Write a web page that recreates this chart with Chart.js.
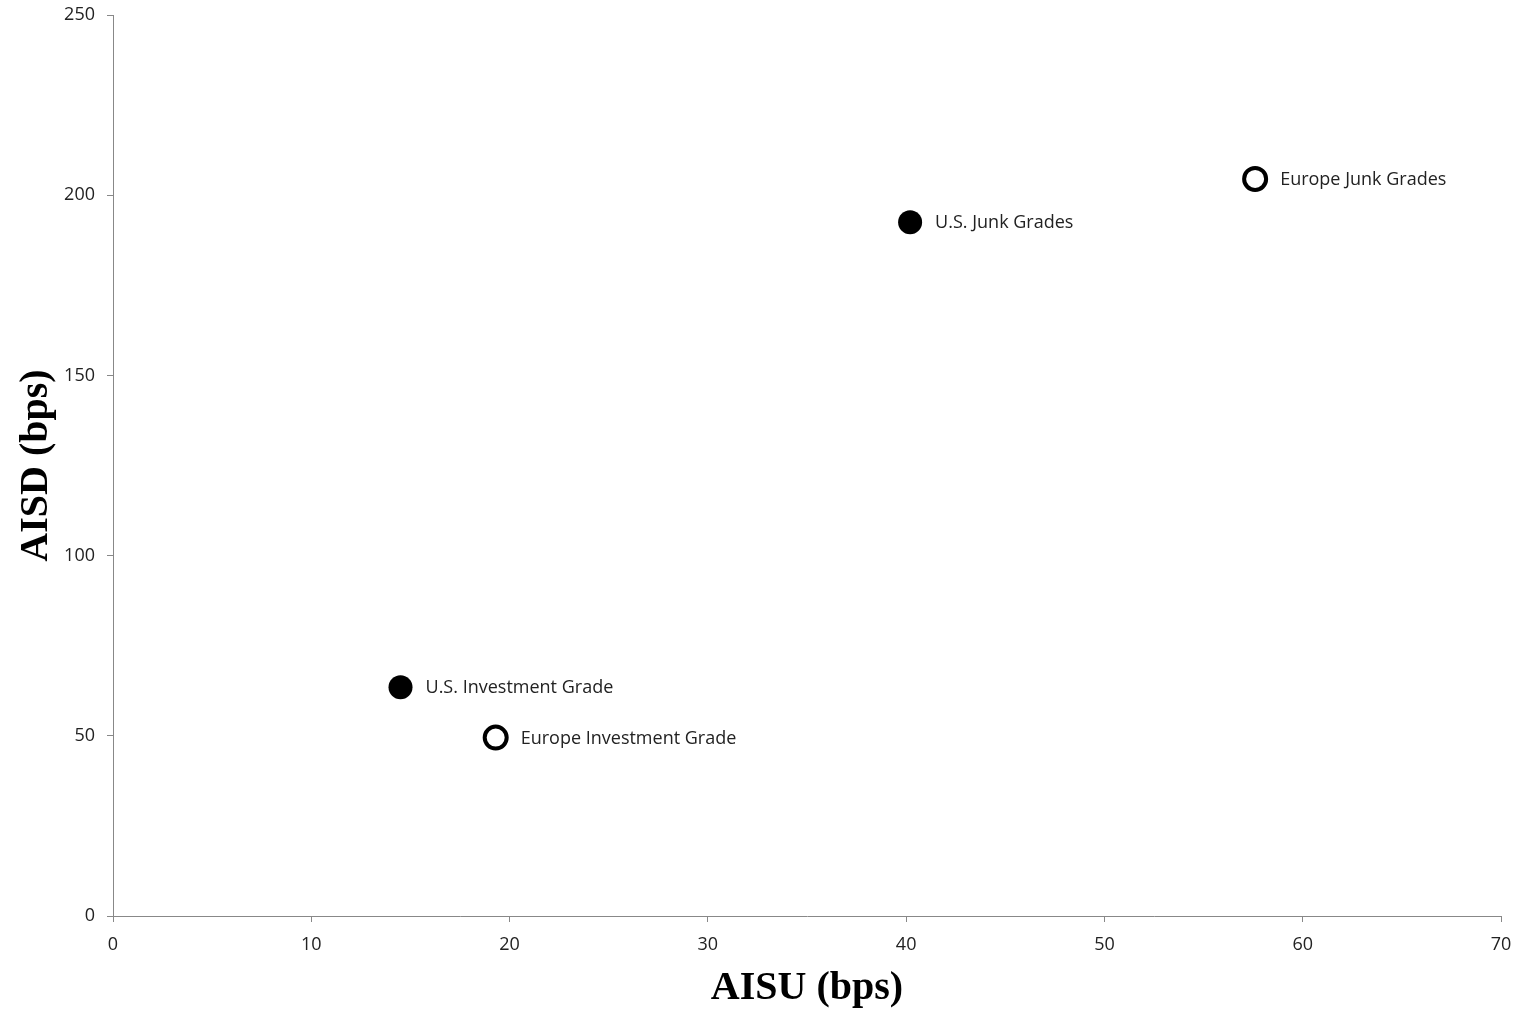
<!DOCTYPE html>
<html>
<head>
<meta charset="utf-8">
<script src="https://cdn.jsdelivr.net/npm/chart.js@4"></script>
<style>
  html, body { margin: 0; padding: 0; background: #fff; }
  #wrap { width: 1521px; height: 1013px; }
</style>
</head>
<body>
<div id="wrap"><canvas id="scatter"></canvas></div>
<script>
// Dados
const pointNames = ['U.S. Investment Grade', 'U.S. Junk Grades', 'Europe Investment Grade', 'Europe Junk Grades'];
const aisuUS = [14.5, 40.2];
const aisdUS = [63.5, 192.5];
const aisuEurope = [19.3, 57.6];
const aisdEurope = [49.5, 204.5];
const xTicks = [0, 10, 20, 30, 40, 50, 60, 70];
const yTicks = [0, 50, 100, 150, 200, 250];

const usLabels = pointNames.slice(0, 2);
const europeLabels = pointNames.slice(2);

const toPoints = (xs, ys) => xs.map((x, i) => ({ x: x, y: ys[i] }));

// Plugin simples para escrever o nome ao lado de cada ponto
const pointLabels = {
  id: 'pointLabels',
  afterDatasetsDraw(chart) {
    const ctx = chart.ctx;
    ctx.save();
    ctx.font = '18px "Open Sans"';
    ctx.fillStyle = '#222';
    ctx.textBaseline = 'middle';
    ctx.textAlign = 'left';
    chart.data.datasets.forEach((ds, di) => {
      const meta = chart.getDatasetMeta(di);
      meta.data.forEach((el, i) => {
        ctx.fillText(ds.names[i], el.x + 25, el.y + 1);
      });
    });
    ctx.restore();
  }
};

const tickFont = { family: 'Open Sans', size: 18 };
const titleFont = { family: 'Liberation Serif', size: 40, weight: 'bold' };

new Chart(document.getElementById('scatter'), {
  type: 'scatter',
  data: {
    datasets: [{
      label: 'U.S.',
      names: usLabels,
      data: toPoints(aisuUS, aisdUS),
      pointRadius: 12,
      pointHoverRadius: 12,
      backgroundColor: '#000',
      borderColor: '#000',
      borderWidth: 0
    }, {
      label: 'Europe',
      names: europeLabels,
      data: toPoints(aisuEurope, aisdEurope),
      pointRadius: 11,
      pointHoverRadius: 11,
      backgroundColor: '#fff',
      borderColor: '#000',
      borderWidth: 4
    }]
  },
  options: {
    responsive: true,
    maintainAspectRatio: false,
    animation: false,
    layout: { padding: { top: 15, right: 20, bottom: 0, left: 13 } },
    plugins: {
      legend: { display: false },
      tooltip: { enabled: false }
    },
    scales: {
      x: {
        type: 'linear',
        min: 0,
        max: 70,
        afterBuildTicks: (s) => { s.ticks = xTicks.map(v => ({ value: v })); },
        afterFit: (s) => { s.height = 97; s.paddingLeft = 0; s.paddingRight = 0; },
        grid: { display: true, drawOnChartArea: false, drawTicks: true, tickLength: 6, color: '#888' },
        border: { color: '#888', width: 1 },
        ticks: { color: '#222', font: tickFont, padding: 12, maxRotation: 0 },
        title: { display: true, text: 'AISU (bps)', color: '#000', font: titleFont, padding: { top: 0, bottom: 0 } }
      },
      y: {
        type: 'linear',
        min: 0,
        max: 250,
        afterBuildTicks: (s) => { s.ticks = yTicks.map(v => ({ value: v })); },
        afterFit: (s) => { s.width = 100; s.paddingTop = 0; s.paddingBottom = 0; },
        grid: { display: true, drawOnChartArea: false, drawTicks: true, tickLength: 6, color: '#888' },
        border: { color: '#888', width: 1 },
        ticks: { color: '#222', font: tickFont, padding: 12 },
        title: { display: true, text: 'AISD (bps)', color: '#000', font: titleFont, padding: { top: 0, bottom: 0 } }
      }
    }
  },
  plugins: [pointLabels]
});
</script>
</body>
</html>
